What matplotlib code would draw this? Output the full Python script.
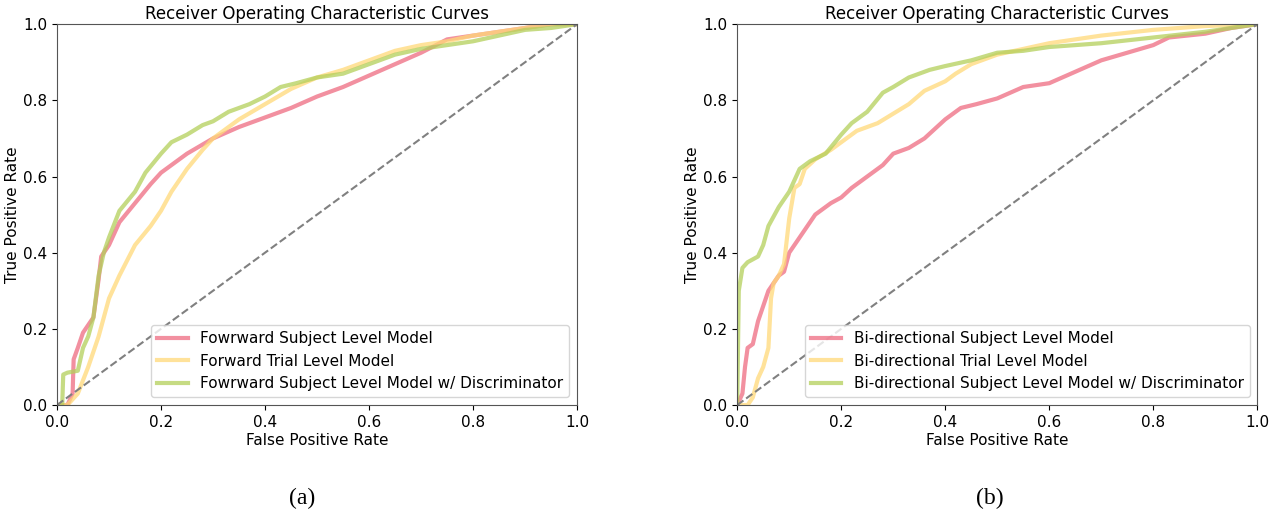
import matplotlib
matplotlib.use('Agg')
import matplotlib.pyplot as plt

# panel (a): forward models
fwd_subj_fpr = [0, 0.02, 0.03, 0.032, 0.04, 0.05, 0.06, 0.07, 0.08, 0.085, 0.1, 0.12, 0.15, 0.18, 0.2,
                0.25, 0.3, 0.35, 0.4, 0.45, 0.5, 0.55, 0.6, 0.65, 0.7, 0.75, 0.8, 0.85, 0.9, 0.95, 1.0]
fwd_subj_tpr = [0, 0.0, 0.03, 0.12, 0.15, 0.19, 0.21, 0.23, 0.33, 0.39, 0.42, 0.48, 0.53, 0.58, 0.61,
                0.66, 0.70, 0.73, 0.755, 0.78, 0.81, 0.835, 0.865, 0.895, 0.925, 0.96, 0.97, 0.98, 0.99, 1.0, 1.0]

fwd_trial_fpr = [0, 0.02, 0.04, 0.06, 0.08, 0.1, 0.12, 0.15, 0.18, 0.2, 0.22, 0.25, 0.28, 0.3, 0.35,
                 0.4, 0.45, 0.5, 0.55, 0.6, 0.65, 0.7, 0.75, 0.8, 0.85, 0.9, 0.95, 1.0]
fwd_trial_tpr = [0, 0.0, 0.03, 0.10, 0.18, 0.28, 0.34, 0.42, 0.47, 0.51, 0.56, 0.62, 0.67, 0.70, 0.75,
                 0.79, 0.83, 0.86, 0.88, 0.905, 0.93, 0.945, 0.955, 0.97, 0.98, 0.99, 1.0, 1.0]

fwd_disc_fpr = [0, 0.01, 0.012, 0.02, 0.04, 0.05, 0.06, 0.07, 0.08, 0.09, 0.1, 0.12, 0.15, 0.17, 0.2,
                0.22, 0.25, 0.28, 0.3, 0.33, 0.37, 0.4, 0.43, 0.46, 0.5, 0.55, 0.6, 0.65, 0.7, 0.75,
                0.8, 0.85, 0.9, 0.95, 1.0]
fwd_disc_tpr = [0, 0.0, 0.08, 0.085, 0.09, 0.15, 0.18, 0.23, 0.34, 0.40, 0.44, 0.51, 0.56, 0.61, 0.66,
                0.69, 0.71, 0.735, 0.745, 0.77, 0.79, 0.81, 0.835, 0.845, 0.86, 0.87, 0.895, 0.92, 0.935, 0.945,
                0.955, 0.97, 0.985, 0.99, 1.0]

# panel (b): bi-directional models
bi_subj_fpr = [0, 0.01, 0.015, 0.02, 0.03, 0.04, 0.05, 0.06, 0.07, 0.08, 0.09, 0.1, 0.12, 0.15, 0.18,
               0.2, 0.22, 0.25, 0.28, 0.3, 0.33, 0.36, 0.4, 0.43, 0.46, 0.5, 0.55, 0.6, 0.65, 0.7,
               0.75, 0.8, 0.83, 0.9, 0.95, 1.0]
bi_subj_tpr = [0, 0.03, 0.10, 0.15, 0.16, 0.22, 0.26, 0.30, 0.32, 0.34, 0.35, 0.40, 0.44, 0.50, 0.53,
               0.545, 0.57, 0.60, 0.63, 0.66, 0.675, 0.70, 0.75, 0.78, 0.79, 0.805, 0.835, 0.845, 0.875, 0.905,
               0.925, 0.945, 0.965, 0.975, 0.99, 1.0]

bi_trial_fpr = [0, 0.02, 0.03, 0.04, 0.05, 0.06, 0.065, 0.07, 0.08, 0.09, 0.1, 0.11, 0.12, 0.13, 0.15,
                0.18, 0.2, 0.23, 0.27, 0.3, 0.33, 0.36, 0.4, 0.42, 0.45, 0.5, 0.55, 0.6, 0.7, 0.8, 0.9, 1.0]
bi_trial_tpr = [0, 0.0, 0.02, 0.07, 0.10, 0.15, 0.28, 0.32, 0.34, 0.37, 0.49, 0.57, 0.58, 0.62, 0.645,
                0.67, 0.69, 0.72, 0.74, 0.765, 0.79, 0.825, 0.85, 0.87, 0.895, 0.92, 0.935, 0.95, 0.97, 0.985, 0.995, 1.0]

bi_disc_fpr = [0, 0.003, 0.01, 0.02, 0.04, 0.05, 0.06, 0.08, 0.1, 0.12, 0.14, 0.17, 0.2, 0.22, 0.25,
               0.28, 0.3, 0.33, 0.37, 0.4, 0.45, 0.5, 0.55, 0.6, 0.7, 0.8, 0.9, 1.0]
bi_disc_tpr = [0, 0.30, 0.36, 0.375, 0.39, 0.42, 0.47, 0.52, 0.56, 0.62, 0.64, 0.66, 0.71, 0.74, 0.77,
               0.82, 0.835, 0.86, 0.88, 0.89, 0.905, 0.925, 0.93, 0.94, 0.95, 0.965, 0.98, 1.0]

labels_a = ['Fowrward Subject Level Model', 'Forward Trial Level Model',
            'Fowrward Subject Level Model w/ Discriminator']
labels_b = ['Bi-directional Subject Level Model', 'Bi-directional Trial Level Model',
            'Bi-directional Subject Level Model w/ Discriminator']
colors = ['#ee6b80', '#ffd978', '#b3cf5a']

fig = plt.figure(figsize=(12.81, 5.14), dpi=100)
ax1 = fig.add_axes([0.0445, 0.212, 0.406, 0.741])
ax2 = fig.add_axes([0.5755, 0.212, 0.406, 0.741])

panels = [
    (ax1, [(fwd_subj_fpr, fwd_subj_tpr), (fwd_trial_fpr, fwd_trial_tpr), (fwd_disc_fpr, fwd_disc_tpr)], labels_a),
    (ax2, [(bi_subj_fpr, bi_subj_tpr), (bi_trial_fpr, bi_trial_tpr), (bi_disc_fpr, bi_disc_tpr)], labels_b),
]

for ax, curves, labels in panels:
    for (x, y), lab, c in zip(curves, labels, colors):
        ax.plot(x, y, color=c, lw=3, alpha=0.75, label=lab)
    ax.plot([0, 1], [0, 1], ls='--', color='gray', lw=1.5)
    ax.set_xlim(0, 1)
    ax.set_ylim(0, 1)
    ax.set_title('Receiver Operating Characteristic Curves', fontsize=12, pad=4)
    ax.set_xlabel('False Positive Rate', fontsize=11, labelpad=2)
    ax.set_ylabel('True Positive Rate', fontsize=11, labelpad=2)
    ax.tick_params(labelsize=11)
    for s in ax.spines.values():
        s.set_color('#555555')
    ax.legend(loc='lower right', fontsize=11, borderaxespad=0.5)

fig.text(0.236, 0.02, '(a)', fontsize=17, family='Liberation Serif', ha='center')
fig.text(0.773, 0.02, '(b)', fontsize=17, family='Liberation Serif', ha='center')

fig.savefig('out.png', dpi=100)
